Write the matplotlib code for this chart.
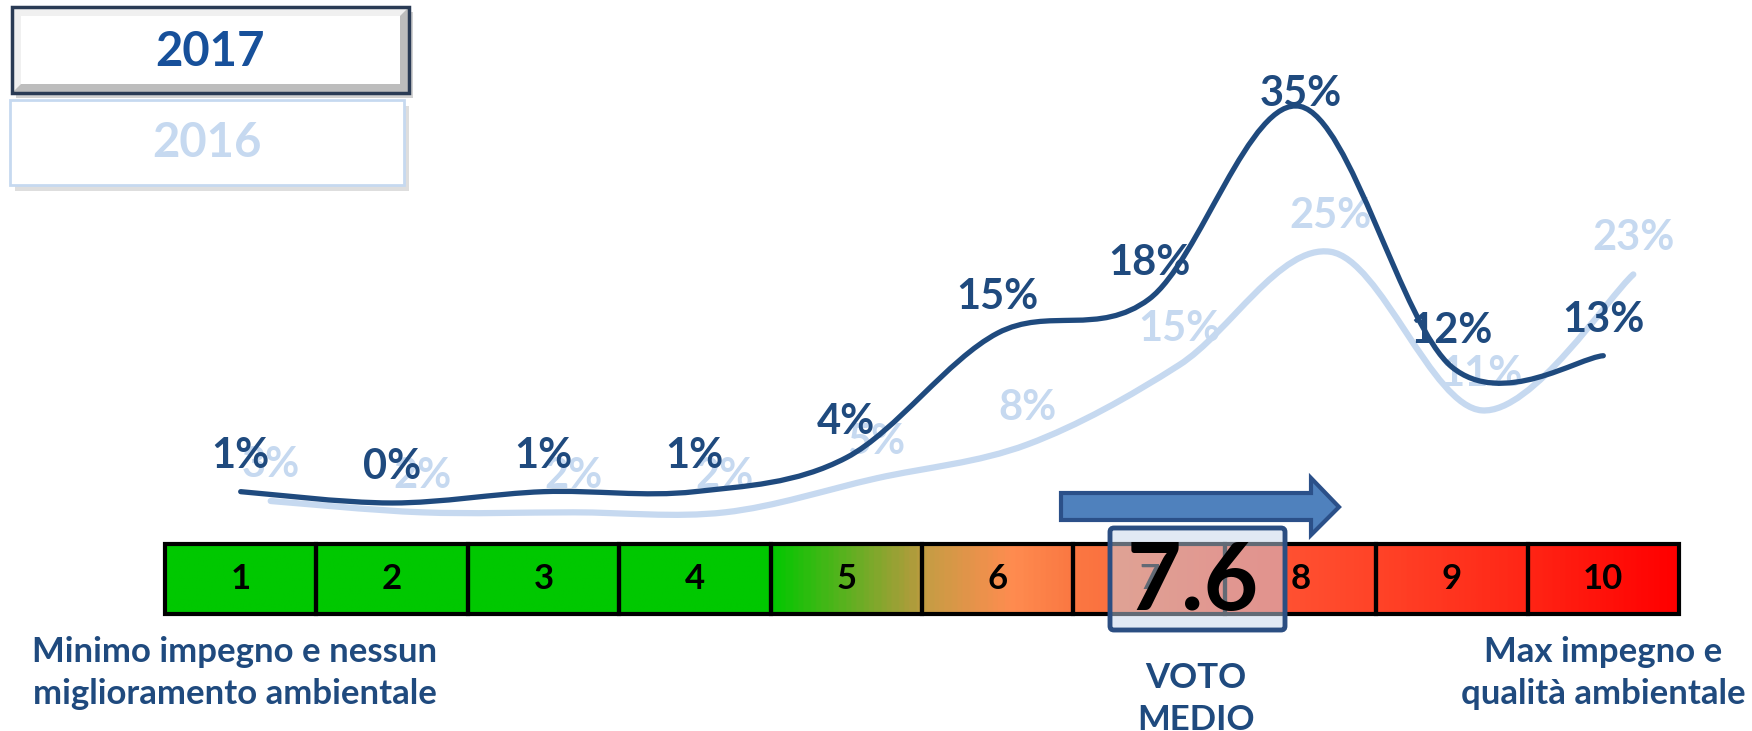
import matplotlib
matplotlib.use("Agg")
import matplotlib.pyplot as plt
import numpy as np
from matplotlib.path import Path
from matplotlib.patches import PathPatch, Rectangle, FancyBboxPatch, Polygon
from matplotlib.colors import LinearSegmentedColormap

plt.rcParams['font.family'] = ['Lato', 'DejaVu Sans']

# --- dati ---
voti = [1, 2, 3, 4, 5, 6, 7, 8, 9, 10]
pct_2017 = [1, 0, 1, 1, 4, 15, 18, 35, 12, 13]
pct_2016 = [3, 2, 2, 2, 5, 8, 15, 25, 11, 23]
anni = ['2017', '2016']
voto_medio = 7.6
testo_min = 'Minimo impegno e nessun\nmiglioramento ambientale'
testo_max = 'Max impegno e\nqualità ambientale'
testo_voto = 'VOTO\nMEDIO'

scuro = '#1F4A7E'
chiaro = '#C6D9F0'

W, H = 1752, 731
fig = plt.figure(figsize=(W / 100, H / 100), dpi=100)


def px_axes(x0, y0, x1, y1):
    # axes placed by pixel box (top-left origin)
    ax = fig.add_axes([x0 / W, 1 - y1 / H, (x1 - x0) / W, (y1 - y0) / H])
    ax.set_axis_off()
    return ax


def smooth_path(xs, ys):
    # excel-like smoothed line: catmull-rom turned into cubic bezier
    pts = np.column_stack([xs, ys]).astype(float)
    ext = np.vstack([pts[0], pts, pts[-1]])
    verts = [pts[0]]
    codes = [Path.MOVETO]
    for i in range(len(pts) - 1):
        p0, p1, p2, p3 = ext[i], ext[i + 1], ext[i + 2], ext[i + 3]
        verts += [p1 + (p2 - p0) / 6, p2 - (p3 - p1) / 6, p2]
        codes += [Path.CURVE4] * 3
    return Path(verts, codes)


def draw_series(ax, values, color, lw):
    ax.set_xlim(0.5, 10.5)
    ax.set_ylim(-3.62, 44.4)
    ax.add_patch(PathPatch(smooth_path(voti, values), fill=False,
                           edgecolor=color, lw=lw, capstyle='round',
                           clip_on=False))
    top = max(values)
    for x, v in zip(voti, values):
        off = 9 if v == top and color == scuro else 26
        ax.annotate(f'{v}%', (x, v), xytext=(0, off), textcoords='offset points',
                    ha='center', va='center', fontsize=30, fontweight='bold',
                    color=color, annotation_clip=False)


# 2016 chart sits slightly right/below the 2017 one
ax16 = px_axes(195, 32, 1709, 576)
draw_series(ax16, pct_2016, chiaro, 4.5)
ax17 = px_axes(165, 0, 1679, 544)
draw_series(ax17, pct_2017, scuro, 3.8)

# --- barra dei voti ---
axb = px_axes(165, 544, 1679, 614)
axb.set_xlim(0.5, 10.5)
axb.set_ylim(0, 1)
grad = LinearSegmentedColormap.from_list('voti', [
    (0.0, '#00C800'), (0.40, '#00C800'), (0.495, '#B09C3C'),
    (0.505, '#C89C44'), (0.56, '#FF8C50'), (0.60, '#FA7842'),
    (0.70, '#FF5A38'), (0.80, '#FF4428'), (0.90, '#FF2616'),
    (1.0, '#FF0000')])
axb.imshow(np.linspace(0, 1, 600)[None, :], cmap=grad, aspect='auto',
           extent=(0.5, 10.5, 0, 1))
for v in voti:
    axb.add_patch(Rectangle((v - 0.5, 0), 1, 1, fill=False, edgecolor='black',
                            lw=3, clip_on=False))
    axb.text(v, 0.5, str(v), ha='center', va='center', fontsize=25,
             fontweight='bold', color='black')

# --- overlay in pixel coords ---
ov = px_axes(0, 0, W, H)
ov.set_xlim(0, W)
ov.set_ylim(H, 0)

# freccia
ov.add_patch(Polygon([(1061, 493), (1311, 493), (1311, 478), (1339, 507),
                      (1311, 535), (1311, 520), (1061, 520)],
                     closed=True, fc='#4F81BD', ec='#2B5089', lw=3,
                     joinstyle='miter'))

# riquadro voto medio
ov.add_patch(FancyBboxPatch((1110, 528), 175, 102,
                            boxstyle='round,pad=0,rounding_size=4',
                            fc=(0.773, 0.835, 0.918, 0.5), ec='#2B4E82', lw=3.5))
ov.text(1193, 583, f'{voto_medio:.1f}', ha='center', va='center',
        fontsize=68, fontweight='bold', color='black')

# testi in basso
ov.text(235, 673, testo_min, ha='center', va='center', fontsize=25,
        fontweight='bold', color=scuro, linespacing=1.42)
ov.text(1603, 673, testo_max, ha='center', va='center', fontsize=25,
        fontweight='bold', color=scuro, linespacing=1.42)
ov.text(1196, 699, testo_voto, ha='center', va='center', fontsize=25,
        fontweight='bold', color=scuro, linespacing=1.35)

# legenda: 2017 con bordo smussato
ov.add_patch(Rectangle((16, 12), 397, 86, fc='#7F7F7F', alpha=0.35, ec='none'))
x0, y0, x1, y1, b = 12, 7, 409, 93, 9
ov.add_patch(Rectangle((x0, y0), x1 - x0, y1 - y0, fc='#BDBDBD', ec='none'))
ov.add_patch(Polygon([(x0, y0), (x1, y0), (x1 - b, y0 + b), (x0 + b, y0 + b),
                      (x0 + b, y1 - b), (x0, y1)], fc='#F0F0F0', ec='none'))
ov.add_patch(Rectangle((x0 + b, y0 + b), x1 - x0 - 2 * b, y1 - y0 - 2 * b,
                       fc='white', ec='none'))
ov.add_patch(Rectangle((x0, y0), x1 - x0, y1 - y0, fill=False, ec='#2A3B55',
                       lw=2.5))
ov.text(210, 52, anni[0], ha='center', va='center', fontsize=34,
        fontweight='bold', color='#17509A')

# legenda: 2016
ov.add_patch(Rectangle((15, 106), 394, 85, fc='#7F7F7F', alpha=0.25, ec='none'))
ov.add_patch(Rectangle((10, 100), 394, 85, fc='white', ec=chiaro, lw=2))
ov.text(207, 143, anni[1], ha='center', va='center', fontsize=34,
        fontweight='bold', color=chiaro)

fig.savefig('out.png', dpi=100)
